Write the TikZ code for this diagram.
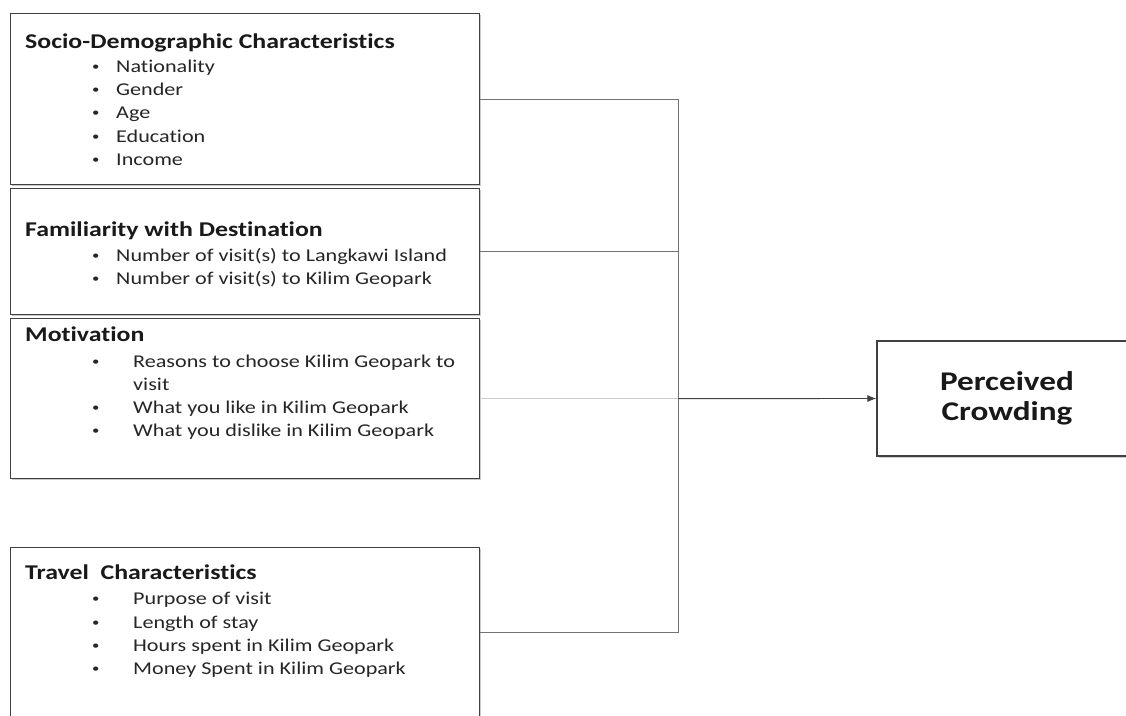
\documentclass[tikz,border=0pt]{standalone}
\usepackage{fontspec}
\setmainfont{Carlito}[FakeStretch=1.23, Ligatures=NoCommon]
\usetikzlibrary{arrows.meta, positioning, calc, shadows}

\tikzset{
  factor/.style={draw=black!75, line width=1.3pt, fill=white, inner sep=0pt,
    drop shadow={shadow xshift=1.6pt, shadow yshift=-1.6pt, opacity=0.35, fill=black!60}},
  head/.style={anchor=base west, inner sep=0pt, text=black!90,
    font=\fontsize{21}{25}\selectfont\bfseries},
  item/.style={anchor=base west, inner sep=0pt, text=black!85,
    font=\fontsize{18}{22}\selectfont},
  link/.style={draw=black!55, line width=0.9pt},
}
\newcommand{\bul}[1]{\makebox[#1][l]{\raisebox{1.5pt}{\fontsize{12}{12}\selectfont\textbullet}}}

\begin{document}
\begin{tikzpicture}[x=1pt, y=-1pt]
\useasboundingbox (0,0) rectangle (1126,715);
\clip (0,0) rectangle (1126,715);
% Factor boxes (left column)
\node[factor, anchor=north west, minimum width=469, minimum height=171] (socio) at (10,13) {};
\node[factor, anchor=north west, minimum width=469, minimum height=126] (famil) at (10,188) {};
\node[factor, anchor=north west, minimum width=469, minimum height=160] (motiv) at (10,318) {};
\node[factor, anchor=north west, minimum width=469, minimum height=169] (travel) at (10,547) {};
% Outcome box
\node[factor, minimum width=260, minimum height=115, align=center, text=black!90,
  font=\fontsize{27}{30}\selectfont\bfseries] (crowd) at (1007,398.5) {Perceived\\Crowding};
% Socio-demographic
\node[head] (socio-h) at (25,48) {Socio-Demographic Characteristics};
\node[item] (socio-a) at (92,72) {\bul{24pt}Nationality};
\node[item] (socio-b) at (92,95) {\bul{24pt}Gender};
\node[item] (socio-c) at (92,118) {\bul{24pt}Age};
\node[item] (socio-d) at (92,142) {\bul{24pt}Education};
\node[item] (socio-e) at (92,165) {\bul{24pt}Income};
% Familiarity
\node[head] (famil-h) at (25,236) {Familiarity with Destination};
\node[item] (famil-a) at (92,261) {\bul{24pt}Number of visit(s) to Langkawi Island};
\node[item] (famil-b) at (92,284) {\bul{24pt}Number of visit(s) to Kilim Geopark};
% Motivation
\node[head] (motiv-h) at (25,341) {Motivation};
\node[item] (motiv-a) at (92,367) {\bul{41pt}Reasons to choose Kilim Geopark to};
\node[item] (motiv-w) at (133,390) {visit};
\node[item] (motiv-b) at (92,413) {\bul{41pt}What you like in Kilim Geopark};
\node[item] (motiv-c) at (92,436) {\bul{41pt}What you dislike in Kilim Geopark};
% Travel
\node[head] (travel-h) at (25,579) {Travel\ \ Characteristics};
\node[item] (travel-a) at (92,604) {\bul{41pt}Purpose of visit};
\node[item] (travel-b) at (92,628) {\bul{41pt}Length of stay};
\node[item] (travel-c) at (92,651) {\bul{41pt}Hours spent in Kilim Geopark};
\node[item] (travel-d) at (92,674) {\bul{41pt}Money Spent in Kilim Geopark};
% Bracket joining the factors
\coordinate (bus) at (678,0);
\draw[link] (socio.east) -- (socio.east -| bus) -- (travel.east -| bus) -- (travel.east);
\draw[link] (famil.east) -- (famil.east -| bus);
\draw[link, draw=black!20] (motiv.east) -- (motiv.east -| bus);
\draw[link, draw=black!75, -{Latex[length=9pt, width=7pt]}] (motiv.east -| bus) -- (crowd.west);
\end{tikzpicture}
\end{document}
